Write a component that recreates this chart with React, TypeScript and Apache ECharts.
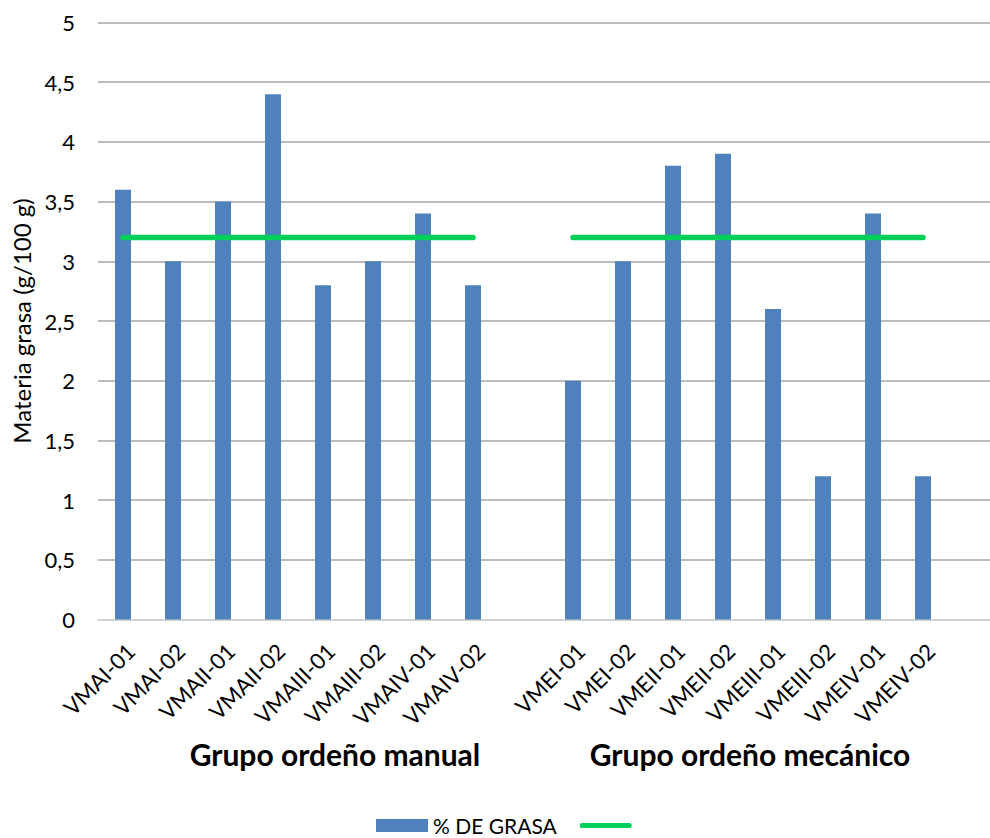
import React, { useEffect, useRef } from "react";
import * as echarts from "echarts";

const manualCategories = ["VMAI-01", "VMAI-02", "VMAII-01", "VMAII-02", "VMAIII-01", "VMAIII-02", "VMAIV-01", "VMAIV-02"];
const mechanicalCategories = ["VMEI-01", "VMEI-02", "VMEII-01", "VMEII-02", "VMEIII-01", "VMEIII-02", "VMEIV-01", "VMEIV-02"];
const manualFat = [3.6, 3.0, 3.5, 4.4, 2.8, 3.0, 3.4, 2.8];
const mechanicalFat = [2.0, 3.0, 3.8, 3.9, 2.6, 1.2, 3.4, 1.2];
const manualReference = [3.2, 3.2, 3.2, 3.2, 3.2, 3.2, 3.2, 3.2];
const mechanicalReference = [3.2, 3.2, 3.2, 3.2, 3.2, 3.2, 3.2, 3.2];
const groupLabels = ["Grupo ordeño manual", "Grupo ordeño mecánico"];
const barSeriesName = "% DE GRASA";
const lineSeriesName = "Referencia";
const yAxisTitle = "Materia grasa (g/100 g)";

const categories = [...manualCategories, "", ...mechanicalCategories, " "];
const barData = [...manualFat, "-", ...mechanicalFat, "-"];
const lineData = [...manualReference, "-", ...mechanicalReference, "-"];

const FONT = "Lato, 'Open Sans', sans-serif";
const GREEN = "#00d05a";

export default function App() {
  const ref = useRef<HTMLDivElement>(null);
  useEffect(() => {
    document.body.style.margin = "0";
    document.body.style.overflow = "hidden";
    document.documentElement.style.overflow = "hidden";
    const chart = echarts.init(ref.current!, null, { renderer: "svg" });
    chart.setOption({
      animation: false,
      backgroundColor: "#ffffff",
      textStyle: { fontFamily: FONT },
      grid: {
        left: 98,
        right: 0,
        top: 22.5,
        bottom: 218.5,
        containLabel: false,
        outerBoundsMode: "none",
      },
      xAxis: {
        type: "category",
        data: categories,
        axisLine: { show: true, lineStyle: { color: "#d9d9d9", width: 1.5 } },
        axisTick: { show: false },
        axisLabel: {
          rotate: 45,
          interval: 0,
          margin: 20,
          fontSize: 22,
          color: "#000000",
          fontFamily: FONT,
          verticalAlign: "top",
        },
      },
      yAxis: {
        type: "value",
        min: 0,
        max: 5,
        interval: 0.5,
        name: yAxisTitle,
        nameLocation: "middle",
        nameGap: 64,
        nameTextStyle: { fontSize: 24, color: "#000000", fontFamily: FONT },
        axisLine: { show: false },
        axisTick: { show: false },
        splitLine: { lineStyle: { color: "#a6a6a6", width: 1.5 } },
        axisLabel: {
          margin: 23,
          fontSize: 22,
          color: "#000000",
          fontFamily: FONT,
          formatter: (v: number) => String(v).replace(".", ","),
        },
      },
      legend: {
        top: 815,
        left: 376,
        padding: 0,
        itemWidth: 52,
        itemHeight: 13,
        itemGap: 23,
        textStyle: { fontSize: 21, color: "#000000", fontFamily: FONT },
        formatter: (name: string) => (name === lineSeriesName ? "" : name),
        data: [
          { name: barSeriesName, icon: "rect" },
          {
            name: lineSeriesName,
            icon: "path://M2.75,0 H53.25 A2.75,2.75 0 0 1 53.25,5.5 H2.75 A2.75,2.75 0 0 1 2.75,0 Z",
            itemStyle: { color: GREEN },
          },
        ],
      },
      series: [
        {
          name: barSeriesName,
          type: "bar",
          data: barData,
          barWidth: 16,
          itemStyle: { color: "#4f81bd" },
        },
        {
          name: lineSeriesName,
          type: "line",
          data: lineData,
          symbol: "none",
          showSymbol: false,
          connectNulls: false,
          lineStyle: { color: GREEN, width: 5.5, cap: "round" },
          itemStyle: { color: GREEN },
        },
      ],
      graphic: [
        {
          type: "text",
          x: 335,
          y: 754,
          style: {
            text: groupLabels[0],
            fontSize: 30,
            fontWeight: "bold",
            fontFamily: FONT,
            fill: "#000000",
            align: "center",
            verticalAlign: "middle",
          },
        },
        {
          type: "text",
          x: 750,
          y: 754,
          style: {
            text: groupLabels[1],
            fontSize: 30,
            fontWeight: "bold",
            fontFamily: FONT,
            fill: "#000000",
            align: "center",
            verticalAlign: "middle",
          },
        },
      ],
    });
    return () => chart.dispose();
  }, []);
  return (
    <div
      ref={ref}
      style={{ position: "absolute", left: 0, top: 0, width: 998, height: 838 }}
    />
  );
}
